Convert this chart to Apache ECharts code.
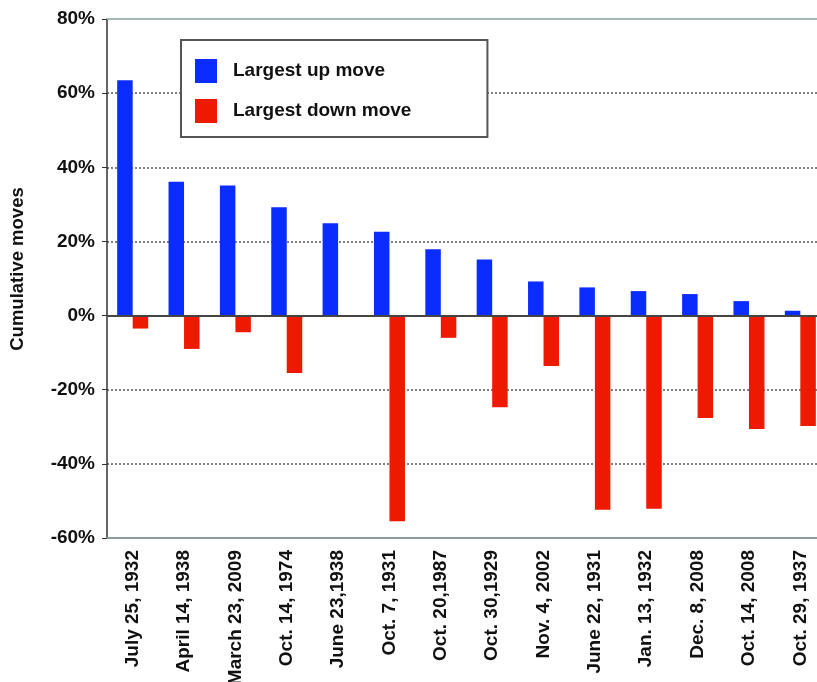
<!DOCTYPE html>
<html>
<head>
<meta charset="utf-8">
<script src="https://cdn.jsdelivr.net/npm/echarts@6/dist/echarts.min.js"></script>
<style>
html,body{margin:0;padding:0;background:#fff;}
#chart{width:817px;height:682px;}
</style>
</head>
<body>
<div id="chart"></div>
<script>
const categories = ["July 25, 1932","April 14, 1938","March 23, 2009","Oct. 14, 1974","June 23,1938","Oct. 7, 1931","Oct. 20,1987","Oct. 30,1929","Nov. 4, 2002","June 22, 1931","Jan. 13, 1932","Dec. 8, 2008","Oct. 14, 2008","Oct. 29, 1937"];
const upMoves = [63.5, 36.1, 35.1, 29.2, 24.9, 22.6, 17.9, 15.1, 9.2, 7.6, 6.6, 5.8, 3.9, 1.3];
const downMoves = [-3.5, -9.0, -4.5, -15.5, 0, -55.5, -6.0, -24.7, -13.6, -52.4, -52.1, -27.6, -30.6, -29.8];
const seriesNames = ["Largest up move", "Largest down move"];
const yTicks = {min: -60, max: 80, interval: 20};

const FONT = "'Liberation Sans', Arial, Helvetica, sans-serif";
const chart = echarts.init(document.getElementById('chart'), null, {renderer: 'canvas'});
chart.setOption({
  animation: false,
  backgroundColor: '#ffffff',
  textStyle: {fontFamily: FONT},
  grid: {left: 107, right: -9, top: 19, bottom: 144, containLabel: false, outerBoundsMode: 'none'},
  legend: {
    orient: 'vertical',
    left: 181, top: 40,
    padding: [19, 76, 14, 14],
    itemGap: 16,
    itemWidth: 22, itemHeight: 24,
    icon: 'rect',
    borderColor: '#555555', borderWidth: 2,
    backgroundColor: '#ffffff',
    textStyle: {fontFamily: FONT, fontSize: 19, fontWeight: 'bold', color: '#111', padding: [0, 0, 0, 11]},
    data: seriesNames
  },
  xAxis: [{
    type: 'category',
    data: categories,
    position: 'bottom',
    axisLine: {onZero: false, lineStyle: {color: '#8c9a9a', width: 2}},
    axisTick: {show: false},
    axisLabel: {rotate: 90, interval: 0, margin: 12, fontFamily: FONT, fontSize: 19, fontWeight: 'bold', color: '#111'}
  }, {
    type: 'category',
    data: categories,
    position: 'top',
    axisLine: {onZero: false, lineStyle: {color: '#a7b5b5', width: 2}},
    axisTick: {show: false},
    axisLabel: {show: false}
  }],
  yAxis: {
    type: 'value',
    min: yTicks.min, max: yTicks.max, interval: yTicks.interval,
    name: 'Cumulative moves',
    nameLocation: 'middle',
    nameGap: 80,
    nameRotate: 90,
    nameTextStyle: {fontFamily: FONT, fontSize: 18.5, fontWeight: 'bold', color: '#111', padding: [0, 0, 0, 19]},
    axisLine: {show: true, lineStyle: {color: '#333', width: 1.5}},
    axisTick: {show: true, length: 5, lineStyle: {color: '#333', width: 1}},
    axisLabel: {margin: 12, formatter: '{value}%', fontFamily: FONT, fontSize: 19, fontWeight: 'bold', color: '#111'},
    splitLine: {show: true, lineStyle: {color: '#555', type: [2, 2], width: 1.5}}
  },
  series: [{
    name: seriesNames[0],
    type: 'bar',
    data: upMoves,
    barWidth: 15.5,
    barGap: '0%',
    itemStyle: {color: '#0a2cff'},
    markLine: {
      silent: true, symbol: 'none', animation: false,
      label: {show: false},
      lineStyle: {color: '#444', type: 'solid', width: 2},
      data: [{yAxis: 0}]
    }
  }, {
    name: seriesNames[1],
    type: 'bar',
    data: downMoves,
    barWidth: 15.5,
    barGap: '0%',
    itemStyle: {color: '#ee1a00'}
  }]
});
</script>
</body>
</html>
